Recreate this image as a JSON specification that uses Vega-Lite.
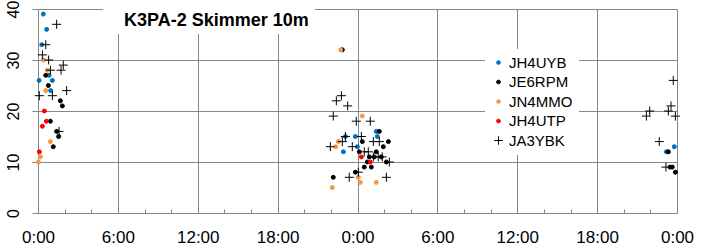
{
  "$schema": "https://vega.github.io/schema/vega-lite/v6.json",
  "width": 639,
  "height": 204,
  "autosize": {"type": "none"},
  "padding": {"left": 38, "top": 9, "right": 24, "bottom": 38},
  "background": "white",
  "config": {
    "view": {"stroke": null},
    "font": "Liberation Sans"
  },
  "layer": [
    {
      "data": {
        "values": [
          {"call": "JH4UYB", "h": 0.40, "v": 39},
          {"call": "JH4UYB", "h": 0.65, "v": 36},
          {"call": "JH4UYB", "h": 0.28, "v": 33},
          {"call": "JH4UYB", "h": 0.08, "v": 26},
          {"call": "JH4UYB", "h": 1.08, "v": 26},
          {"call": "JH4UYB", "h": 0.83, "v": 27},
          {"call": "JH4UYB", "h": 0.95, "v": 24},
          {"call": "JH4UYB", "h": 25.41, "v": 16},
          {"call": "JH4UYB", "h": 25.49, "v": 15},
          {"call": "JH4UYB", "h": 23.09, "v": 15},
          {"call": "JH4UYB", "h": 23.84, "v": 15},
          {"call": "JH4UYB", "h": 23.99, "v": 13},
          {"call": "JH4UYB", "h": 22.94, "v": 12},
          {"call": "JH4UYB", "h": 47.80, "v": 13},
          {"call": "JH4UYB", "h": 47.20, "v": 12},
          {"call": "JE6RPM", "h": 0.58, "v": 27},
          {"call": "JE6RPM", "h": 0.78, "v": 25},
          {"call": "JE6RPM", "h": 1.68, "v": 22},
          {"call": "JE6RPM", "h": 1.83, "v": 21},
          {"call": "JE6RPM", "h": 0.93, "v": 18},
          {"call": "JE6RPM", "h": 1.40, "v": 16},
          {"call": "JE6RPM", "h": 1.55, "v": 15},
          {"call": "JE6RPM", "h": 1.15, "v": 13},
          {"call": "JE6RPM", "h": 22.86, "v": 32},
          {"call": "JE6RPM", "h": 25.64, "v": 16},
          {"call": "JE6RPM", "h": 24.36, "v": 14},
          {"call": "JE6RPM", "h": 26.32, "v": 14},
          {"call": "JE6RPM", "h": 25.94, "v": 13},
          {"call": "JE6RPM", "h": 24.14, "v": 12},
          {"call": "JE6RPM", "h": 25.41, "v": 12},
          {"call": "JE6RPM", "h": 24.89, "v": 11},
          {"call": "JE6RPM", "h": 25.26, "v": 11},
          {"call": "JE6RPM", "h": 25.79, "v": 11},
          {"call": "JE6RPM", "h": 24.74, "v": 10},
          {"call": "JE6RPM", "h": 26.17, "v": 10},
          {"call": "JE6RPM", "h": 24.51, "v": 9},
          {"call": "JE6RPM", "h": 25.04, "v": 9},
          {"call": "JE6RPM", "h": 23.84, "v": 8},
          {"call": "JE6RPM", "h": 22.18, "v": 7},
          {"call": "JE6RPM", "h": 47.35, "v": 12},
          {"call": "JE6RPM", "h": 47.47, "v": 9},
          {"call": "JE6RPM", "h": 47.65, "v": 9},
          {"call": "JE6RPM", "h": 47.88, "v": 8},
          {"call": "JN4MMO", "h": 0.40, "v": 30},
          {"call": "JN4MMO", "h": 0.70, "v": 28},
          {"call": "JN4MMO", "h": 0.58, "v": 24},
          {"call": "JN4MMO", "h": 0.93, "v": 14},
          {"call": "JN4MMO", "h": 0.18, "v": 11},
          {"call": "JN4MMO", "h": 0.03, "v": 10},
          {"call": "JN4MMO", "h": 22.74, "v": 32},
          {"call": "JN4MMO", "h": 24.36, "v": 19},
          {"call": "JN4MMO", "h": 22.56, "v": 14},
          {"call": "JN4MMO", "h": 22.36, "v": 13},
          {"call": "JN4MMO", "h": 24.06, "v": 7},
          {"call": "JN4MMO", "h": 24.21, "v": 6},
          {"call": "JN4MMO", "h": 25.41, "v": 6},
          {"call": "JN4MMO", "h": 22.11, "v": 5},
          {"call": "JH4UTP", "h": 0.48, "v": 20},
          {"call": "JH4UTP", "h": 0.63, "v": 18},
          {"call": "JH4UTP", "h": 0.33, "v": 17},
          {"call": "JH4UTP", "h": 0.10, "v": 12},
          {"call": "JH4UTP", "h": 24.29, "v": 11},
          {"call": "JH4UTP", "h": 24.96, "v": 10},
          {"call": "JA3YBK", "h": 1.40, "v": 37},
          {"call": "JA3YBK", "h": 0.58, "v": 33},
          {"call": "JA3YBK", "h": 0.33, "v": 31},
          {"call": "JA3YBK", "h": 0.80, "v": 30},
          {"call": "JA3YBK", "h": 1.90, "v": 29},
          {"call": "JA3YBK", "h": 1.73, "v": 28},
          {"call": "JA3YBK", "h": 0.93, "v": 28},
          {"call": "JA3YBK", "h": 2.15, "v": 24},
          {"call": "JA3YBK", "h": 0.10, "v": 23},
          {"call": "JA3YBK", "h": 1.08, "v": 23},
          {"call": "JA3YBK", "h": 1.58, "v": 16},
          {"call": "JA3YBK", "h": 22.79, "v": 23},
          {"call": "JA3YBK", "h": 22.41, "v": 22},
          {"call": "JA3YBK", "h": 23.26, "v": 21},
          {"call": "JA3YBK", "h": 22.18, "v": 19},
          {"call": "JA3YBK", "h": 23.91, "v": 18},
          {"call": "JA3YBK", "h": 24.96, "v": 18},
          {"call": "JA3YBK", "h": 23.09, "v": 15},
          {"call": "JA3YBK", "h": 24.29, "v": 15},
          {"call": "JA3YBK", "h": 22.86, "v": 14},
          {"call": "JA3YBK", "h": 25.19, "v": 14},
          {"call": "JA3YBK", "h": 25.64, "v": 14},
          {"call": "JA3YBK", "h": 21.96, "v": 13},
          {"call": "JA3YBK", "h": 23.61, "v": 13},
          {"call": "JA3YBK", "h": 24.51, "v": 12},
          {"call": "JA3YBK", "h": 24.81, "v": 12},
          {"call": "JA3YBK", "h": 25.19, "v": 11},
          {"call": "JA3YBK", "h": 25.56, "v": 11},
          {"call": "JA3YBK", "h": 25.86, "v": 11},
          {"call": "JA3YBK", "h": 26.39, "v": 10},
          {"call": "JA3YBK", "h": 24.06, "v": 8},
          {"call": "JA3YBK", "h": 23.38, "v": 7},
          {"call": "JA3YBK", "h": 26.17, "v": 7},
          {"call": "JA3YBK", "h": 47.72, "v": 26},
          {"call": "JA3YBK", "h": 47.55, "v": 21},
          {"call": "JA3YBK", "h": 47.35, "v": 20},
          {"call": "JA3YBK", "h": 45.95, "v": 20},
          {"call": "JA3YBK", "h": 45.70, "v": 19},
          {"call": "JA3YBK", "h": 47.88, "v": 19},
          {"call": "JA3YBK", "h": 46.67, "v": 14},
          {"call": "JA3YBK", "h": 47.17, "v": 9}
        ]
      },
      "mark": {"type": "point", "filled": true, "opacity": 1, "size": 16, "strokeWidth": 1},
      "encoding": {
        "x": {
          "field": "h", "type": "quantitative",
          "scale": {"domain": [0, 48], "nice": false, "zero": false},
          "axis": {
            "title": null,
            "values": [0,2,4,6,8,10,12,14,16,18,20,22,24,26,28,30,32,34,36,38,40,42,44,46,48],
            "tickCount": 100,
            "labelExpr": "datum.value % 6 === 0 ? (datum.value % 24) + ':00' : ''",
            "labelOverlap": false,
            "labelFlush": false,
            "labelFontSize": 17,
            "labelColor": "black",
            "labelPadding": 20,
            "grid": true,
            "gridColor": "#868686",
            "gridOpacity": {"condition": {"test": "datum.value % 6 === 0", "value": 1}, "value": 0},
            "tickSize": -4,
            "tickColor": "#868686",
            "domainColor": "#868686"
          }
        },
        "y": {
          "field": "v", "type": "quantitative",
          "scale": {"domain": [0, 40], "nice": false},
          "axis": {
            "title": null,
            "values": [0, 10, 20, 30, 40],
            "labelAngle": -90,
            "labelAlign": "center",
            "labelBaseline": "bottom",
            "labelFontSize": 16,
            "labelColor": "black",
            "labelPadding": 11,
            "grid": true,
            "gridColor": "#868686",
            "tickSize": 6,
            "tickColor": "#868686",
            "domainColor": "#868686"
          }
        },
        "fill": {
          "field": "call", "type": "nominal",
          "scale": {"domain": ["JH4UYB", "JE6RPM", "JN4MMO", "JH4UTP", "JA3YBK"],
                    "range": ["#0070C0", "#000000", "#F79646", "#FF0000", "#000000"]},
          "legend": {
            "orient": "none", "legendX": 447, "legendY": 40,
            "title": null, "fillColor": "white", "padding": 6,
            "symbolSize": 14, "symbolStrokeWidth": 1,
            "labelFontSize": 15, "labelColor": "black", "labelOffset": 3,
            "rowPadding": 3.5
          }
        },
        "stroke": {
          "field": "call", "type": "nominal",
          "scale": {"domain": ["JH4UYB", "JE6RPM", "JN4MMO", "JH4UTP", "JA3YBK"],
                    "range": ["#0070C0", "#000000", "#F79646", "#FF0000", "#000000"]}
        },
        "shape": {
          "field": "call", "type": "nominal",
          "scale": {"domain": ["JH4UYB", "JE6RPM", "JN4MMO", "JH4UTP", "JA3YBK"],
                    "range": ["circle", "circle", "circle", "circle", "M-2.25,0H2.25M0,-2.25V2.25"]}
        }
      }
    },
    {
      "data": {"values": [{}]},
      "mark": {"type": "rect", "color": "white"},
      "encoding": {
        "x": {"datum": 4.9, "type": "quantitative"},
        "x2": {"datum": 20.8},
        "y": {"datum": 35.1, "type": "quantitative"},
        "y2": {"datum": 41}
      }
    },
    {
      "data": {"values": [{}]},
      "mark": {"type": "text", "text": "K3PA-2 Skimmer 10m", "font": "Liberation Sans", "fontWeight": "bold", "fontSize": 18, "align": "center", "baseline": "middle", "color": "black"},
      "encoding": {
        "x": {"datum": 13.4, "type": "quantitative"},
        "y": {"datum": 37.6, "type": "quantitative"}
      }
    }
  ]
}
